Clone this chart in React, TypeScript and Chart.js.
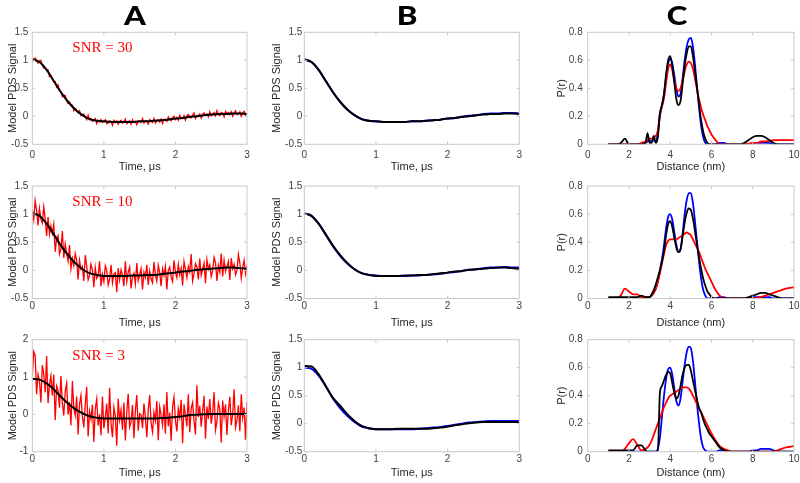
import React, { useEffect, useRef } from "react";
import { Chart, registerables } from "chart.js";

Chart.register(...registerables);

// ---------------- DATA ----------------
const TIME_FINE = [
  0, 0.02, 0.04, 0.06, 0.08, 0.1, 0.12, 0.14, 0.16, 0.18,
  0.2, 0.22, 0.24, 0.26, 0.28, 0.3, 0.32, 0.34, 0.36, 0.38,
  0.4, 0.42, 0.44, 0.46, 0.48, 0.5, 0.52, 0.54, 0.56, 0.58,
  0.6, 0.62, 0.64, 0.66, 0.68, 0.7, 0.72, 0.74, 0.76, 0.78,
  0.8, 0.82, 0.84, 0.86, 0.88, 0.9, 0.92, 0.94, 0.96, 0.98,
  1.0, 1.02, 1.04, 1.06, 1.08, 1.1, 1.12, 1.14, 1.16, 1.18,
  1.2, 1.22, 1.24, 1.26, 1.28, 1.3, 1.32, 1.34, 1.36, 1.38,
  1.4, 1.42, 1.44, 1.46, 1.48, 1.5, 1.52, 1.54, 1.56, 1.58,
  1.6, 1.62, 1.64, 1.66, 1.68, 1.7, 1.72, 1.74, 1.76, 1.78,
  1.8, 1.82, 1.84, 1.86, 1.88, 1.9, 1.92, 1.94, 1.96, 1.98,
  2.0, 2.02, 2.04, 2.06, 2.08, 2.1, 2.12, 2.14, 2.16, 2.18,
  2.2, 2.22, 2.24, 2.26, 2.28, 2.3, 2.32, 2.34, 2.36, 2.38,
  2.4, 2.42, 2.44, 2.46, 2.48, 2.5, 2.52, 2.54, 2.56, 2.58,
  2.6, 2.62, 2.64, 2.66, 2.68, 2.7, 2.72, 2.74, 2.76, 2.78,
  2.8, 2.82, 2.84, 2.86, 2.88, 2.9, 2.92, 2.94, 2.96, 2.98,
  3.0,
];

const TIME_COARSE = [
  0, 0.1, 0.2, 0.3, 0.4, 0.5, 0.6, 0.7, 0.8, 0.9, 1.0,
  1.1, 1.2, 1.3, 1.4, 1.5, 1.6, 1.7, 1.8, 1.9, 2.0,
  2.1, 2.2, 2.3, 2.4, 2.5, 2.6, 2.7, 2.8, 2.9, 3.0,
];

const RED_SNR30 = [
  1.03, 1.0, 1.04, 1.0, 0.95, 0.99, 1.0, 0.91, 0.86, 0.87,
  0.83, 0.83, 0.71, 0.73, 0.68, 0.61, 0.62, 0.52, 0.56, 0.45,
  0.44, 0.35, 0.38, 0.37, 0.28, 0.23, 0.25, 0.2, 0.2, 0.1,
  0.14, 0.1, 0.06, 0.1, 0.01, 0.03, 0.04, -0.02, -0.06, 0.02,
  -0.06, -0.04, -0.09, -0.06, -0.04, -0.13, -0.07, -0.1, -0.06, -0.11,
  -0.09, -0.06, -0.13, -0.12, -0.08, -0.09, -0.16, -0.07, -0.11, -0.08,
  -0.14, -0.09, -0.07, -0.12, -0.1, -0.05, -0.13, -0.11, -0.08, -0.14,
  -0.06, -0.11, -0.09, -0.15, -0.08, -0.1, -0.11, -0.04, -0.12, -0.08,
  -0.09, -0.14, -0.06, -0.08, -0.11, -0.04, -0.12, -0.08, -0.06, -0.1,
  -0.05, -0.13, -0.06, -0.05, -0.09, -0.01, -0.06, -0.08, -0.02, 0.0,
  -0.06, -0.02, -0.07, 0.02, -0.03, -0.04, 0.01, -0.07, 0.01, 0.03,
  -0.02, -0.03, 0.02, 0.06, -0.04, 0.01, 0.01, 0.04, -0.03, 0.04,
  0.06, 0.02, 0.04, -0.01, 0.08, 0.01, 0.04, 0.07, 0.01, 0.1,
  0.03, 0.01, 0.07, 0.06, -0.01, 0.09, 0.05, 0.07, 0.03, 0.08,
  0.0, 0.06, 0.1, 0.03, 0.04, 0.08, 0.0, 0.06, 0.09, 0.02,
  0.05,
];

const RED_SNR10 = [
  1.07, 0.9, 1.24, 1.07, 0.8, 1.1, 0.91, 0.84, 1.13, 0.92,
  0.61, 0.95, 0.64, 0.79, 0.66, 0.82, 0.33, 0.57, 0.62, 0.29,
  0.38, 0.7, 0.22, 0.47, 0.3, 0.16, 0.45, 0.03, 0.21, 0.08,
  0.3, 0.18, -0.16, 0.18, 0.02, 0.07, -0.19, 0.27, 0.08, -0.17,
  -0.09, 0.11, 0.01, -0.3, 0.05, -0.14, -0.08, 0.16, -0.28, -0.07,
  -0.2, 0.08, 0.0, -0.26, -0.15, 0.1, -0.22, -0.06, -0.04, -0.39,
  0.04, -0.17, 0.01, -0.09, -0.28, 0.16, -0.2, -0.03, 0.06, -0.32,
  -0.11, -0.05, -0.24, 0.13, -0.18, -0.08, 0.03, -0.34, -0.03, -0.13,
  0.1, -0.26, -0.01, -0.15, -0.22, 0.15, -0.08, -0.19, 0.09, -0.04,
  -0.28, 0.03, -0.09, 0.07, -0.34, 0.0, 0.06, -0.12, -0.2, 0.18,
  -0.03, -0.13, 0.11, -0.08, 0.04, -0.27, 0.16, 0.02, -0.13, 0.07,
  -0.03, 0.29, -0.19, -0.06, 0.12, 0.06, -0.16, 0.21, -0.09, 0.02,
  0.13, -0.23, 0.19, 0.02, 0.1, -0.11, 0.0, 0.23, 0.14, -0.19,
  0.09, -0.03, 0.3, -0.11, 0.18, -0.02, 0.07, 0.16, -0.17, 0.22,
  0.03, 0.11, -0.08, 0.0, 0.28, 0.13, -0.14, 0.05, 0.18, -0.06,
  0.08,
];

const RED_SNR3 = [
  1.02, 1.68, 1.58, 0.54, 1.07, 0.9, 0.32, 1.32, 1.07, 0.59,
  1.56, 0.3, 0.79, 1.03, 0.5, 1.07, -0.16, 0.76, 0.65, 0.18,
  1.03, 0.3, -0.03, 0.62, 0.83, -0.01, 0.33, -0.3, 0.89, 0.17,
  -0.03, 0.48, -0.54, 0.27, 0.51, -0.07, -0.35, 0.26, 0.74, -0.59,
  0.08, -0.13, 0.26, -0.74, 0.15, 0.41, -0.3, 0.0, -0.56, 0.48,
  -0.37, -0.08, 0.29, -0.51, 0.71, -0.24, -0.61, 0.19, -0.04, -0.84,
  0.42, -0.14, 0.12, -0.41, 0.32, -0.7, 0.06, 0.55, -0.34, -0.21,
  0.25, -0.64, 0.09, 0.52, -0.44, 0.02, -0.01, -0.37, 0.29, -0.08,
  -0.61, 0.12, 0.52, -0.24, -0.47, 0.06, -0.17, 0.36, -0.69, 0.2,
  -0.03, -0.29, 0.27, -0.52, 0.6, -0.32, 0.05, -0.71, 0.19, 0.46,
  -0.16, -0.46, 0.15, -0.08, 0.39, -0.77, 0.27, -0.03, -0.32, 0.54,
  -0.48, 0.16, 0.32, -0.18, -0.54, 0.78, -0.07, 0.23, -0.33, 0.1,
  0.5, -0.65, 0.21, -0.12, 0.41, -0.25, 0.04, 0.6, -0.42, -0.19,
  0.31, 0.14, -0.75, 0.37, -0.06, 0.27, -0.55, 0.11, 0.47, -0.29,
  0.01, 0.67, -0.35, -0.16, 0.24, -0.45, 0.54, -0.09, 0.18, -0.68,
  0.34,
];

const FIT_A1 = [1.02, 0.97, 0.83, 0.63, 0.43, 0.26, 0.12, 0.02, -0.05, -0.08, -0.09, -0.1, -0.1, -0.1, -0.1, -0.09, -0.09, -0.08, -0.07, -0.06, -0.04, -0.03, -0.01, 0.0, 0.02, 0.03, 0.04, 0.04, 0.05, 0.05, 0.04];
const FIT_A2 = [1.01, 0.97, 0.83, 0.64, 0.44, 0.27, 0.13, 0.02, -0.05, -0.08, -0.1, -0.1, -0.1, -0.1, -0.09, -0.09, -0.08, -0.08, -0.07, -0.05, -0.04, -0.02, -0.01, 0.01, 0.02, 0.03, 0.04, 0.05, 0.05, 0.04, 0.03];
const FIT_A3 = [0.95, 0.93, 0.83, 0.67, 0.47, 0.29, 0.14, 0.03, -0.05, -0.09, -0.11, -0.11, -0.11, -0.11, -0.11, -0.11, -0.11, -0.11, -0.1, -0.09, -0.07, -0.05, -0.02, -0.01, 0.0, 0.01, 0.01, 0.01, 0.01, 0.01, 0.01];

const BLUE_B1 = [1.01, 0.97, 0.83, 0.63, 0.43, 0.26, 0.12, 0.02, -0.05, -0.08, -0.09, -0.1, -0.1, -0.1, -0.1, -0.09, -0.09, -0.08, -0.07, -0.06, -0.04, -0.03, -0.01, 0.01, 0.02, 0.04, 0.05, 0.05, 0.06, 0.06, 0.05];
const BLACK_B1 = [1.02, 0.97, 0.83, 0.63, 0.43, 0.26, 0.12, 0.02, -0.05, -0.08, -0.09, -0.1, -0.1, -0.1, -0.1, -0.09, -0.09, -0.08, -0.07, -0.06, -0.04, -0.03, -0.01, 0.0, 0.02, 0.03, 0.04, 0.04, 0.05, 0.05, 0.04];
const BLUE_B2 = [1.01, 0.97, 0.83, 0.63, 0.43, 0.26, 0.12, 0.02, -0.05, -0.08, -0.09, -0.1, -0.1, -0.1, -0.1, -0.09, -0.09, -0.08, -0.07, -0.06, -0.04, -0.03, -0.01, 0.01, 0.02, 0.04, 0.05, 0.05, 0.06, 0.05, 0.05];
const BLACK_B2 = [1.01, 0.97, 0.83, 0.64, 0.44, 0.27, 0.13, 0.02, -0.05, -0.08, -0.1, -0.1, -0.1, -0.1, -0.09, -0.09, -0.08, -0.08, -0.07, -0.05, -0.04, -0.02, -0.01, 0.01, 0.02, 0.03, 0.04, 0.05, 0.05, 0.04, 0.03];
const BLUE_B3 = [1.0, 0.98, 0.86, 0.67, 0.45, 0.28, 0.14, 0.03, -0.05, -0.08, -0.1, -0.1, -0.1, -0.1, -0.1, -0.1, -0.09, -0.08, -0.07, -0.06, -0.04, -0.02, 0.0, 0.02, 0.03, 0.04, 0.05, 0.05, 0.05, 0.05, 0.05];
const BLACK_B3 = [1.03, 1.02, 0.88, 0.67, 0.46, 0.32, 0.17, 0.05, -0.04, -0.08, -0.1, -0.1, -0.1, -0.09, -0.09, -0.09, -0.09, -0.09, -0.08, -0.07, -0.05, -0.03, -0.01, 0.01, 0.02, 0.03, 0.03, 0.03, 0.03, 0.03, 0.03];

const DIST = [
  1, 1.2, 1.4, 1.6, 1.8, 2, 2.2, 2.4, 2.6, 2.8,
  2.9, 3, 3.1, 3.2, 3.3, 3.4, 3.5, 3.6, 3.7, 3.8, 3.9, 4,
  4.1, 4.2, 4.3, 4.4, 4.5, 4.6, 4.7, 4.8, 4.9, 5,
  5.1, 5.2, 5.3, 5.4, 5.5, 5.6, 5.7, 5.8, 5.9, 6,
  6.2, 6.4, 6.6, 6.8, 7, 7.2, 7.4, 7.6, 7.8, 8,
  8.2, 8.4, 8.6, 8.8, 9, 9.2, 9.4, 9.6, 9.8, 10,
];

const BLUE_C1 = [
  0, 0, 0, 0, 0, 0, 0, 0, 0, 0.01,
  0.02, 0.03, 0.02, 0.03, 0.02, 0.08, 0.2, 0.28, 0.36, 0.48, 0.58, 0.61,
  0.58, 0.49, 0.39, 0.34, 0.36, 0.47, 0.6, 0.7, 0.75, 0.76,
  0.7, 0.57, 0.41, 0.26, 0.13, 0.05, 0.01, 0, 0, 0,
  0, 0.01, 0.01, 0, 0, 0, 0, 0, 0, 0.01,
  0.01, 0.01, 0.01, 0.01, 0, 0, 0, 0, 0, 0,
];
const RED_C1 = [
  0, 0, 0, 0, 0, 0, 0, 0, 0.01, 0.02,
  0.03, 0.04, 0.04, 0.05, 0.06, 0.1, 0.22, 0.27, 0.33, 0.44, 0.54, 0.57,
  0.53, 0.45, 0.4, 0.38, 0.4, 0.46, 0.52, 0.57, 0.59, 0.58,
  0.54, 0.47, 0.39, 0.32, 0.26, 0.21, 0.17, 0.13, 0.1, 0.07,
  0.03, 0, 0, 0, 0, 0, 0, 0, 0.005, 0.01,
  0.01, 0.02, 0.02, 0.025, 0.03, 0.03, 0.03, 0.03, 0.03, 0.03,
];
const BLACK_C1 = [
  0, 0, 0, 0.01, 0.04, 0, 0, 0, 0, 0.01,
  0.08, 0.01, 0.01, 0.06, 0.01, 0.05, 0.22, 0.28, 0.36, 0.5, 0.6, 0.63,
  0.56, 0.44, 0.32, 0.28, 0.31, 0.43, 0.56, 0.65, 0.7, 0.7,
  0.63, 0.52, 0.4, 0.28, 0.17, 0.09, 0.04, 0.01, 0, 0,
  0, 0, 0, 0, 0, 0, 0, 0.01, 0.03, 0.05,
  0.06, 0.06, 0.05, 0.03, 0.01, 0, 0, 0, 0, 0,
];

const BLUE_C2 = [
  0, 0, 0, 0, 0, 0, 0, 0, 0, 0,
  0, 0.01, 0.02, 0.04, 0.07, 0.12, 0.2, 0.28, 0.38, 0.5, 0.58, 0.6,
  0.56, 0.47, 0.38, 0.33, 0.35, 0.46, 0.6, 0.7, 0.75, 0.75,
  0.68, 0.55, 0.4, 0.26, 0.14, 0.06, 0.02, 0, 0, 0,
  0, 0.01, 0.01, 0, 0, 0, 0, 0, 0, 0.01,
  0.01, 0.01, 0.01, 0.01, 0, 0, 0, 0, 0, 0,
];
const RED_C2 = [
  0, 0, 0, 0.02, 0.07, 0.05, 0.03, 0.03, 0.01, 0.01,
  0.01, 0.01, 0.02, 0.04, 0.07, 0.12, 0.18, 0.25, 0.32, 0.38, 0.41, 0.42,
  0.42, 0.42, 0.42, 0.43, 0.44, 0.45, 0.46, 0.47, 0.46, 0.45,
  0.42, 0.39, 0.36, 0.33, 0.29, 0.25, 0.21, 0.18, 0.15, 0.12,
  0.06, 0.02, 0, 0, 0, 0, 0, 0, 0, 0,
  0.005, 0.01, 0.02, 0.03, 0.04, 0.05, 0.06, 0.07, 0.075, 0.08,
];
const BLACK_C2 = [
  0.01, 0.01, 0.01, 0.01, 0.01, 0.01, 0.01, 0.01, 0.02, 0.01,
  0.01, 0.01, 0.03, 0.06, 0.1, 0.15, 0.2, 0.26, 0.34, 0.45, 0.53, 0.55,
  0.51, 0.43, 0.36, 0.33, 0.35, 0.44, 0.54, 0.61, 0.64, 0.63,
  0.57, 0.48, 0.38, 0.29, 0.21, 0.14, 0.09, 0.05, 0.03, 0.01,
  0, 0, 0, 0, 0, 0, 0, 0, 0.01, 0.02,
  0.03, 0.04, 0.04, 0.03, 0.02, 0.01, 0, 0, 0, 0,
];

const BLUE_C3 = [
  0, 0, 0, 0, 0, 0, 0, 0, 0, 0,
  0, 0, 0, 0, 0, 0.02, 0.1, 0.25, 0.4, 0.52, 0.59, 0.6,
  0.55, 0.45, 0.36, 0.33, 0.38, 0.5, 0.62, 0.71, 0.75, 0.74,
  0.65, 0.5, 0.34, 0.2, 0.09, 0.03, 0.01, 0, 0, 0,
  0, 0.01, 0.01, 0, 0, 0, 0, 0, 0, 0.01,
  0.01, 0.02, 0.02, 0.02, 0.01, 0, 0, 0, 0, 0,
];
const RED_C3 = [
  0, 0, 0, 0, 0.02, 0.06, 0.09, 0.05, 0.01, 0.02,
  0.03, 0.05, 0.08, 0.12, 0.16, 0.2, 0.24, 0.28, 0.32, 0.35, 0.38, 0.4,
  0.41, 0.42, 0.43, 0.44, 0.45, 0.46, 0.46, 0.46, 0.45, 0.43,
  0.4, 0.37, 0.34, 0.31, 0.28, 0.25, 0.22, 0.19, 0.16, 0.13,
  0.08, 0.04, 0.02, 0.01, 0, 0, 0, 0, 0, 0,
  0, 0, 0, 0, 0, 0.01, 0.02, 0.03, 0.035, 0.04,
];
const BLACK_C3 = [
  0.01, 0.01, 0.01, 0.01, 0.01, 0.01, 0.01, 0.045, 0.045, 0.01,
  0, 0, 0, 0, 0, 0, 0.42, 0.47, 0.51, 0.55, 0.57, 0.56,
  0.49, 0.42, 0.38, 0.4, 0.47, 0.55, 0.6, 0.62, 0.62, 0.58,
  0.51, 0.44, 0.37, 0.31, 0.28, 0.23, 0.19, 0.16, 0.13, 0.11,
  0.07, 0.03, 0.01, 0, 0, 0, 0, 0, 0, 0,
  0, 0, 0, 0, 0, 0, 0, 0, 0, 0,
];

const TIME_TICKS = { min: 0, max: 3, step: 1 };
const DIST_TICKS = { min: 0, max: 10, step: 2 };
const SIGNAL_TICKS = { min: -0.5, max: 1.5, step: 0.5 };
const SIGNAL_TICKS_SNR3 = { min: -1, max: 2, step: 1 };
const PR_TICKS = { min: 0, max: 0.8, step: 0.2 };

const SNR_LABELS = ["SNR = 30", "SNR = 10", "SNR = 3"];
const COLUMN_TITLES = ["A", "B", "C"];

// ---------------- STYLE / LAYOUT ----------------
const CW = 840;
const CH = 483;
const RED = "#ff0000";
const BLUE = "#0000ff";
const BLACK = "#000000";
const BOX = "#c9c9c9";
const TICK_TEXT = "#404040";
const TITLE_TEXT = "#262626";
const SANS = '"Liberation Sans", Arial, sans-serif';

const COLS = [
  { left: 32.3, right: 247, yAxisW: 30.4, yPad: 4, titleX: 135 },
  { left: 304.3, right: 519.3, yAxisW: 37.9, yPad: 2, titleX: 407 },
  { left: 587.7, right: 794, yAxisW: 36.6, yPad: 5, titleX: 677 },
];
const ROWS = [
  { top: 32.3, bottom: 144.3, xAxisH: 33.5, xPad: 5 },
  { top: 186, bottom: 298.5, xAxisH: 34.8, xPad: 1.5 },
  { top: 339.7, bottom: 451.7, xAxisH: 31.6, xPad: 1.5 },
];

type Series = { x: number[]; y: number[]; color: string; width: number; smooth: boolean; order: number };
type Ticks = { min: number; max: number; step: number };
type Panel = {
  col: number;
  row: number;
  xt: Ticks;
  yt: Ticks;
  xTitle: string;
  yTitle: string;
  note?: string;
  series: Series[];
};

const fine = (y: number[]): Series => ({ x: TIME_FINE, y, color: RED, width: 1.3, smooth: false, order: 2 });
const fit = (y: number[], color: string, order: number): Series => ({ x: TIME_COARSE, y, color, width: 2, smooth: true, order });
const dist = (y: number[], color: string, order: number): Series => ({ x: DIST, y, color, width: 1.8, smooth: true, order });

const PANELS: Panel[] = [
  { col: 0, row: 0, xt: TIME_TICKS, yt: SIGNAL_TICKS, xTitle: "Time, μs", yTitle: "Model PDS Signal", note: SNR_LABELS[0], series: [fit(FIT_A1, BLACK, 0), fine(RED_SNR30)] },
  { col: 0, row: 1, xt: TIME_TICKS, yt: SIGNAL_TICKS, xTitle: "Time, μs", yTitle: "Model PDS Signal", note: SNR_LABELS[1], series: [fit(FIT_A2, BLACK, 0), fine(RED_SNR10)] },
  { col: 0, row: 2, xt: TIME_TICKS, yt: SIGNAL_TICKS_SNR3, xTitle: "Time, μs", yTitle: "Model PDS Signal", note: SNR_LABELS[2], series: [fit(FIT_A3, BLACK, 0), fine(RED_SNR3)] },
  { col: 1, row: 0, xt: TIME_TICKS, yt: SIGNAL_TICKS, xTitle: "Time, μs", yTitle: "Model PDS Signal", series: [fit(BLACK_B1, BLACK, 0), fit(BLUE_B1, BLUE, 1)] },
  { col: 1, row: 1, xt: TIME_TICKS, yt: SIGNAL_TICKS, xTitle: "Time, μs", yTitle: "Model PDS Signal", series: [fit(BLACK_B2, BLACK, 0), fit(BLUE_B2, BLUE, 1)] },
  { col: 1, row: 2, xt: TIME_TICKS, yt: SIGNAL_TICKS, xTitle: "Time, μs", yTitle: "Model PDS Signal", series: [fit(BLACK_B3, BLACK, 0), fit(BLUE_B3, BLUE, 1)] },
  { col: 2, row: 0, xt: DIST_TICKS, yt: PR_TICKS, xTitle: "Distance (nm)", yTitle: "P(r)", series: [dist(BLACK_C1, BLACK, 0), dist(RED_C1, RED, 1), dist(BLUE_C1, BLUE, 2)] },
  { col: 2, row: 1, xt: DIST_TICKS, yt: PR_TICKS, xTitle: "Distance (nm)", yTitle: "P(r)", series: [dist(BLACK_C2, BLACK, 0), dist(RED_C2, RED, 1), dist(BLUE_C2, BLUE, 2)] },
  { col: 2, row: 2, xt: DIST_TICKS, yt: PR_TICKS, xTitle: "Distance (nm)", yTitle: "P(r)", series: [dist(BLACK_C3, BLACK, 0), dist(RED_C3, RED, 1), dist(BLUE_C3, BLUE, 2)] },
];

const fmtTick = (v: any) => String(Number(Number(v).toFixed(3)));

// ---------------- PLUGINS ----------------
const boxPlugin = {
  id: "matlabBox",
  afterDatasetsDraw(chart: any) {
    const { ctx, chartArea: a, scales } = chart;
    const tl = 3;
    ctx.save();
    ctx.strokeStyle = BOX;
    ctx.lineWidth = 1;
    ctx.strokeRect(a.left, a.top, a.right - a.left, a.bottom - a.top);
    ctx.beginPath();
    scales.x.ticks.forEach((t: any) => {
      const px = scales.x.getPixelForValue(t.value);
      if (px <= a.left + 1 || px >= a.right - 1) return;
      ctx.moveTo(px, a.bottom);
      ctx.lineTo(px, a.bottom - tl);
      ctx.moveTo(px, a.top);
      ctx.lineTo(px, a.top + tl);
    });
    scales.y.ticks.forEach((t: any) => {
      const py = scales.y.getPixelForValue(t.value);
      if (py <= a.top + 1 || py >= a.bottom - 1) return;
      ctx.moveTo(a.left, py);
      ctx.lineTo(a.left + tl, py);
      ctx.moveTo(a.right, py);
      ctx.lineTo(a.right - tl, py);
    });
    ctx.stroke();
    ctx.restore();
  },
};

const notePlugin = {
  id: "snrNote",
  afterDraw(chart: any, _args: any, opts: any) {
    if (!opts || !opts.text) return;
    const { ctx, chartArea: a } = chart;
    ctx.save();
    ctx.fillStyle = RED;
    ctx.font = '15px "Liberation Serif", "Times New Roman", serif';
    ctx.textBaseline = "middle";
    ctx.textAlign = "left";
    ctx.fillText(opts.text, a.left + 40, a.top + 16);
    ctx.restore();
  },
};

// ---------------- COMPONENTS ----------------
function PanelChart({ p }: { p: Panel }) {
  const ref = useRef<HTMLCanvasElement | null>(null);
  useEffect(() => {
    const canvas = ref.current;
    if (!canvas) return;
    const col = COLS[p.col];
    const row = ROWS[p.row];
    const chart = new Chart(canvas, {
      type: "line",
      data: {
        datasets: p.series.map((s) => ({
          data: s.y.map((v, i) => ({ x: s.x[i], y: v })),
          borderColor: s.color,
          backgroundColor: s.color,
          borderWidth: s.width,
          pointRadius: 0,
          fill: false,
          tension: 0,
          cubicInterpolationMode: s.smooth ? "monotone" : "default",
          order: s.order,
        })),
      },
      options: {
        responsive: false,
        animation: false,
        devicePixelRatio: 1,
        events: [],
        layout: {
          padding: {
            left: col.left - col.yAxisW,
            right: CW - col.right,
            top: row.top,
            bottom: CH - row.bottom - row.xAxisH,
          },
        },
        plugins: {
          legend: { display: false },
          tooltip: { enabled: false },
          snrNote: { text: p.note || "" },
        } as any,
        scales: {
          x: {
            type: "linear",
            min: p.xt.min,
            max: p.xt.max,
            afterFit: (s: any) => {
              s.height = row.xAxisH;
            },
            ticks: {
              stepSize: p.xt.step,
              color: TICK_TEXT,
              font: { family: SANS, size: 10 },
              padding: row.xPad,
              maxRotation: 0,
              autoSkip: false,
              callback: fmtTick,
            },
            grid: { display: false, drawTicks: false },
            border: { display: false },
            title: {
              display: true,
              text: p.xTitle,
              color: TITLE_TEXT,
              font: { family: SANS, size: 11 },
              padding: { top: 4, bottom: 4 },
            },
          },
          y: {
            type: "linear",
            min: p.yt.min,
            max: p.yt.max,
            afterFit: (s: any) => {
              s.width = col.yAxisW;
            },
            ticks: {
              stepSize: p.yt.step,
              color: TICK_TEXT,
              font: { family: SANS, size: 10 },
              padding: col.yPad,
              autoSkip: false,
              callback: fmtTick,
            },
            grid: { display: false, drawTicks: false },
            border: { display: false },
            title: {
              display: true,
              text: p.yTitle,
              color: TITLE_TEXT,
              font: { family: SANS, size: 11 },
              padding: { top: 4, bottom: 4 },
            },
          },
        },
      } as any,
      plugins: [boxPlugin, notePlugin],
    });
    return () => chart.destroy();
  }, [p]);
  return (
    <canvas
      ref={ref}
      width={CW}
      height={CH}
      style={{ position: "absolute", left: 0, top: 0, width: CW, height: CH }}
    />
  );
}

export default function App() {
  return (
    <div
      style={{
        position: "fixed",
        left: 0,
        top: 0,
        width: 800,
        height: 483,
        overflow: "hidden",
        background: "#ffffff",
      }}
    >
      {PANELS.map((p, i) => (
        <PanelChart key={i} p={p} />
      ))}
      {COLUMN_TITLES.map((t, i) => (
        <div
          key={t}
          style={{
            position: "absolute",
            left: COLS[i].titleX - 30,
            top: 1,
            width: 60,
            height: 28,
            lineHeight: "28px",
            textAlign: "center",
            fontFamily: 'Lato, "Open Sans", sans-serif',
            fontWeight: 900,
            fontSize: 26,
            color: "#000",
            transform: "scaleX(1.2)",
          }}
        >
          {t}
        </div>
      ))}
    </div>
  );
}
